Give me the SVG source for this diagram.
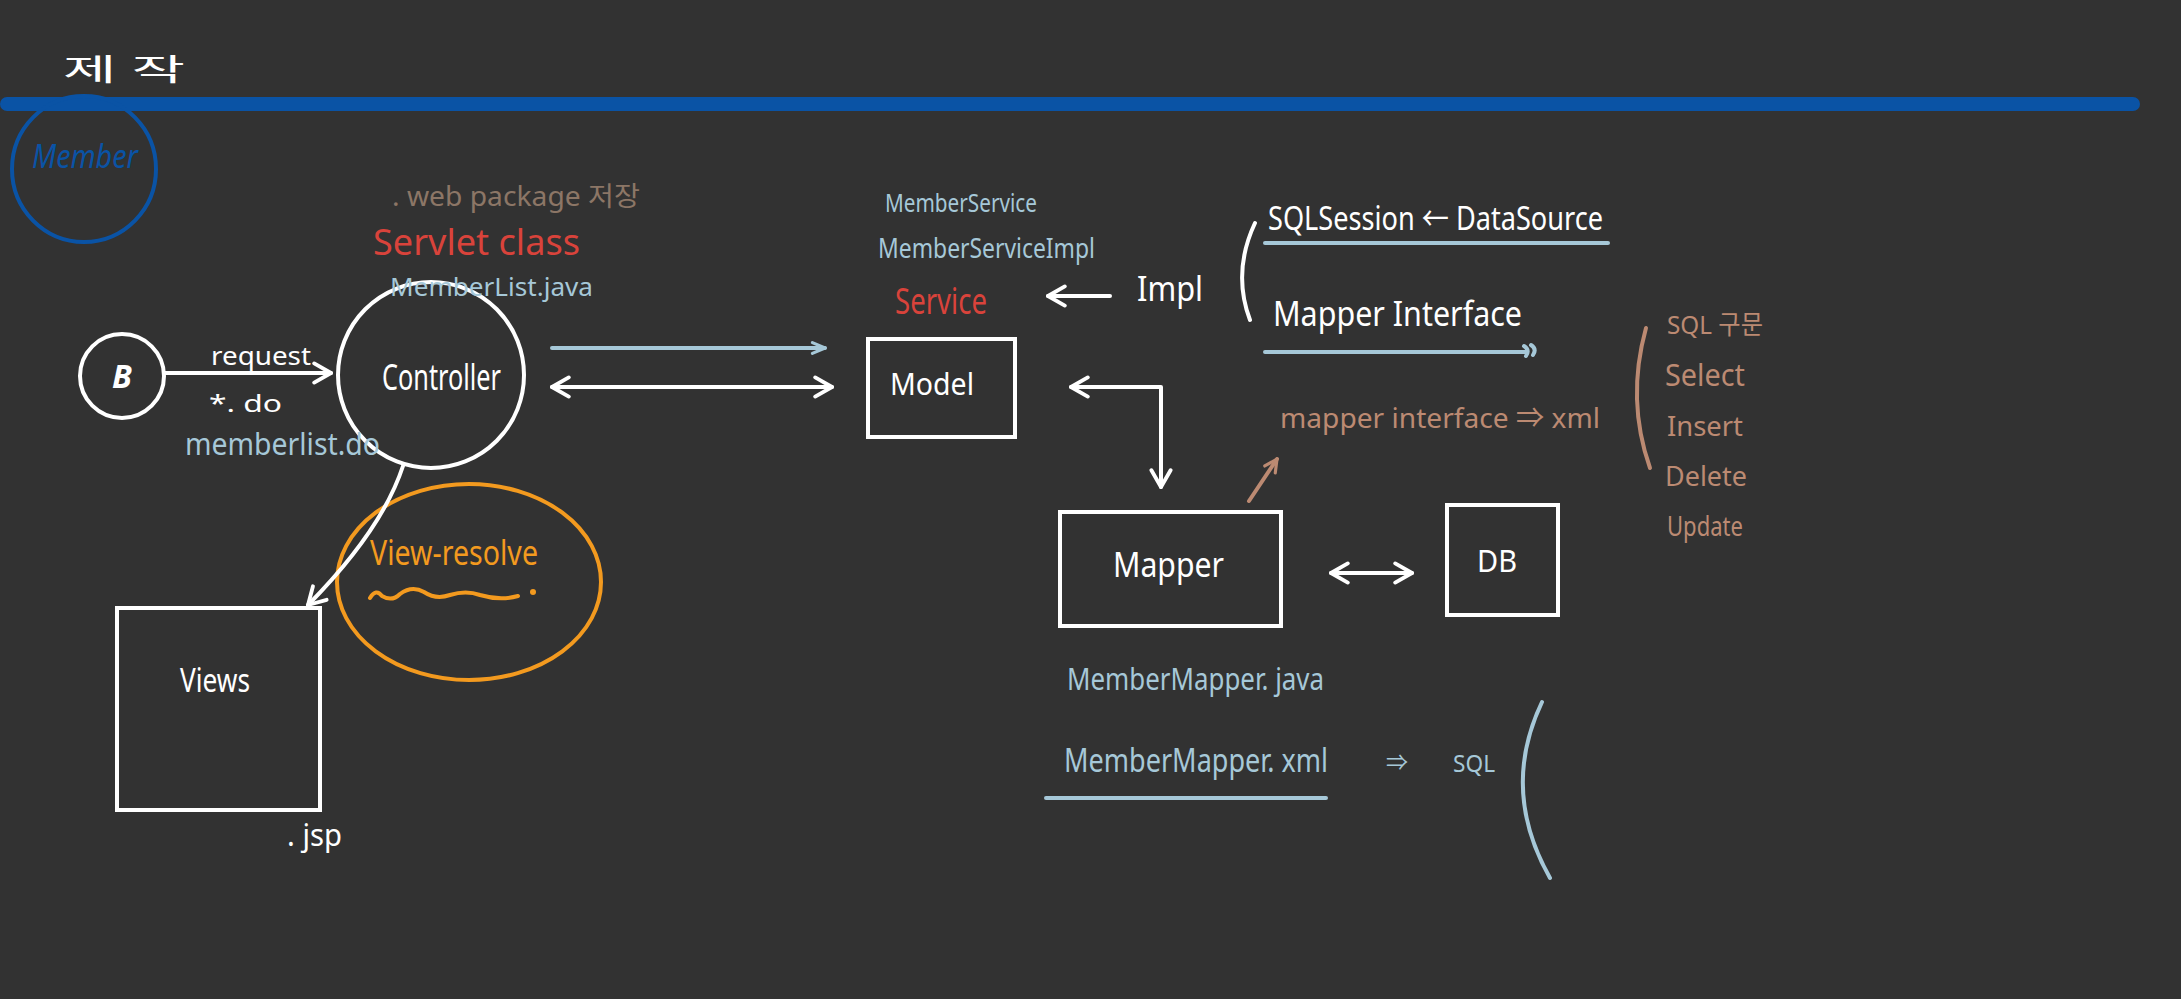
<svg xmlns="http://www.w3.org/2000/svg" width="2181" height="999" viewBox="0 0 2181 999">
<style>
text{font-family:"Noto Sans","Noto Sans CJK KR",sans-serif;}
.w{fill:#ffffff;}
.lb{fill:#a6c8d8;}
.red{fill:#d9433b;}
.tan{fill:#bc8a72;}
.gb{fill:#8c7666;}
.or{fill:#f39a1f;}
.box{fill:none;stroke:#ffffff;stroke-width:4;}
.ln{fill:none;stroke:#ffffff;stroke-width:4;stroke-linecap:round;stroke-linejoin:round;}
.lnb{fill:none;stroke:#a6c8d8;stroke-width:4;stroke-linecap:round;stroke-linejoin:round;}
.lnt{fill:none;stroke:#bc8a72;stroke-width:4;stroke-linecap:round;}
.lno{fill:none;stroke:#f39a1f;stroke-width:4;stroke-linecap:round;}
</style>
<defs>
<marker id="aw" viewBox="0 0 20 20" refX="17" refY="10" markerWidth="24" markerHeight="24" markerUnits="userSpaceOnUse" orient="auto-start-reverse">
<path d="M3,2 L17,10 L3,18" fill="none" stroke="#ffffff" stroke-width="3.2" stroke-linecap="round" stroke-linejoin="round"/>
</marker>
<marker id="ab" viewBox="0 0 20 20" refX="17" refY="10" markerWidth="18" markerHeight="18" markerUnits="userSpaceOnUse" orient="auto-start-reverse">
<path d="M3,4 L17,10 L3,16" fill="none" stroke="#a6c8d8" stroke-width="3.5" stroke-linecap="round" stroke-linejoin="round"/>
</marker>
<marker id="at" viewBox="0 0 20 20" refX="17" refY="10" markerWidth="18" markerHeight="18" markerUnits="userSpaceOnUse" orient="auto">
<path d="M3,3 L17,10 L3,17" fill="none" stroke="#bc8a72" stroke-width="3.5" stroke-linecap="round" stroke-linejoin="round"/>
</marker>
</defs>
<rect x="0" y="0" width="2181" height="999" fill="#323232"/>

<g id="header">
<text class="w" x="63" y="80" font-size="30" textLength="122" lengthAdjust="spacingAndGlyphs">제 작</text>
<rect x="0" y="97" width="2140" height="14" rx="7" fill="#0a53a5"/>
</g>

<g id="member">
<ellipse cx="84" cy="169" rx="72" ry="73" fill="none" stroke="#0a53a5" stroke-width="4"/>
<text x="32" y="168" font-size="32" fill="#0a53a5" font-style="italic" textLength="106" lengthAdjust="spacingAndGlyphs">Member</text>
</g>

<g id="browser">
<circle cx="122" cy="376" r="42" class="box"/>
<text class="w" x="122" y="388" font-size="32" font-style="italic" font-weight="bold" text-anchor="middle">B</text>
</g>

<g id="controller">
<circle cx="431" cy="375" r="93" class="box"/>
<text class="w" x="382" y="390" font-size="36" textLength="119" lengthAdjust="spacingAndGlyphs">Controller</text>
<text class="gb" x="392" y="206" font-size="27" textLength="248" lengthAdjust="spacingAndGlyphs">. web  package 저장</text>
<text class="red" x="373" y="255" font-size="36" textLength="207" lengthAdjust="spacingAndGlyphs">Servlet class</text>
<text class="lb" x="390" y="296" font-size="26" textLength="203" lengthAdjust="spacingAndGlyphs">MemberList.java</text>
<text class="w" x="209" y="412" font-size="24" textLength="73" lengthAdjust="spacingAndGlyphs">*. do</text>
<text class="lb" x="185" y="455" font-size="30" textLength="195" lengthAdjust="spacingAndGlyphs">memberlist.do</text>
</g>

<g id="view-resolve">
<ellipse cx="469" cy="582" rx="132" ry="98" fill="none" stroke="#f39a1f" stroke-width="4"/>
<text class="or" x="370" y="565" font-size="34" textLength="168" lengthAdjust="spacingAndGlyphs">View-resolve</text>
<path class="lno" d="M370,598 Q376,588 382,596 Q392,602 400,594 Q412,585 424,592 Q436,600 450,595 Q466,590 480,595 Q500,601 518,596"/>
<circle cx="533" cy="592" r="3" fill="#f39a1f"/>
</g>

<g id="views">
<rect x="117" y="608" width="203" height="202" class="box"/>
<text class="w" x="180" y="692" font-size="32" textLength="70" lengthAdjust="spacingAndGlyphs">Views</text>
<text class="w" x="287" y="846" font-size="30" textLength="55" lengthAdjust="spacingAndGlyphs">. jsp</text>
</g>

<g id="service">
<text class="lb" x="885" y="212" font-size="26" textLength="152" lengthAdjust="spacingAndGlyphs">MemberService</text>
<text class="lb" x="878" y="258" font-size="28" textLength="217" lengthAdjust="spacingAndGlyphs">MemberServiceImpl</text>
<text class="red" x="895" y="314" font-size="36" textLength="92" lengthAdjust="spacingAndGlyphs">Service</text>
<text class="w" x="1137" y="301" font-size="34" textLength="66" lengthAdjust="spacingAndGlyphs">Impl</text>
<path class="ln" d="M1255,223 Q1232,272 1250,320"/>
<text class="w" x="1268" y="230" font-size="32" textLength="335" lengthAdjust="spacingAndGlyphs">SQLSession ← DataSource</text>
<line class="lnb" x1="1265" y1="243" x2="1608" y2="243"/>
<text class="w" x="1273" y="326" font-size="34" textLength="249" lengthAdjust="spacingAndGlyphs">Mapper Interface</text>
<path class="lnb" d="M1265,352 L1526,352 M1524,346 Q1530,350 1526,356 M1531,345 Q1537,349 1533,355"/>
</g>

<g id="model">
<rect x="868" y="339" width="147" height="98" class="box"/>
<text class="w" x="890" y="395" font-size="30" textLength="84" lengthAdjust="spacingAndGlyphs">Model</text>
</g>

<g id="mapper">
<rect x="1060" y="512" width="221" height="114" class="box"/>
<text class="w" x="1113" y="577" font-size="34" textLength="111" lengthAdjust="spacingAndGlyphs">Mapper</text>
<text class="tan" x="1280" y="428" font-size="28" textLength="320" lengthAdjust="spacingAndGlyphs">mapper interface  ⇒  xml</text>
<text class="lb" x="1067" y="690" font-size="30" textLength="257" lengthAdjust="spacingAndGlyphs">MemberMapper. java</text>
<text class="lb" x="1064" y="772" font-size="32" textLength="264" lengthAdjust="spacingAndGlyphs">MemberMapper. xml</text>
<line class="lnb" x1="1046" y1="798" x2="1326" y2="798"/>
<text class="lb" x="1386" y="770" font-size="22">⇒</text>
<text class="lb" x="1453" y="772" font-size="24" textLength="42" lengthAdjust="spacingAndGlyphs">SQL</text>
<path class="lnb" d="M1542,702 Q1500,790 1550,878"/>
</g>

<g id="db">
<rect x="1447" y="505" width="111" height="110" class="box"/>
<text class="w" x="1477" y="572" font-size="30" textLength="40" lengthAdjust="spacingAndGlyphs">DB</text>
</g>

<g id="sql-list">
<path class="lnt" d="M1646,328 Q1626,400 1650,468"/>
<text class="tan" x="1667" y="334" font-size="26" textLength="96" lengthAdjust="spacingAndGlyphs">SQL 구문</text>
<text class="tan" x="1665" y="386" font-size="30" textLength="80" lengthAdjust="spacingAndGlyphs">Select</text>
<text class="tan" x="1667" y="436" font-size="28" textLength="76" lengthAdjust="spacingAndGlyphs">Insert</text>
<text class="tan" x="1665" y="486" font-size="28" textLength="82" lengthAdjust="spacingAndGlyphs">Delete</text>
<text class="tan" x="1667" y="536" font-size="28" textLength="76" lengthAdjust="spacingAndGlyphs">Update</text>
</g>

<g id="connectors">
<line class="ln" x1="164" y1="373" x2="331" y2="373" marker-end="url(#aw)"/>
<text class="w" x="211" y="365" font-size="26" textLength="100" lengthAdjust="spacingAndGlyphs">request</text>
<line class="lnb" x1="552" y1="348" x2="825" y2="348" marker-end="url(#ab)"/>
<line class="ln" x1="552" y1="387" x2="832" y2="387" marker-start="url(#aw)" marker-end="url(#aw)"/>
<path class="ln" stroke-width="3" d="M403,466 Q382,530 308,605" marker-end="url(#aw)"/>
<line class="ln" x1="1110" y1="296" x2="1048" y2="296" marker-end="url(#aw)"/>
<path class="ln" d="M1071,387 L1161,387 L1161,487" marker-start="url(#aw)" marker-end="url(#aw)"/>
<line class="ln" x1="1331" y1="573" x2="1412" y2="573" marker-start="url(#aw)" marker-end="url(#aw)"/>
<line class="lnt" x1="1249" y1="501" x2="1277" y2="459" marker-end="url(#at)"/>
</g>
</svg>
